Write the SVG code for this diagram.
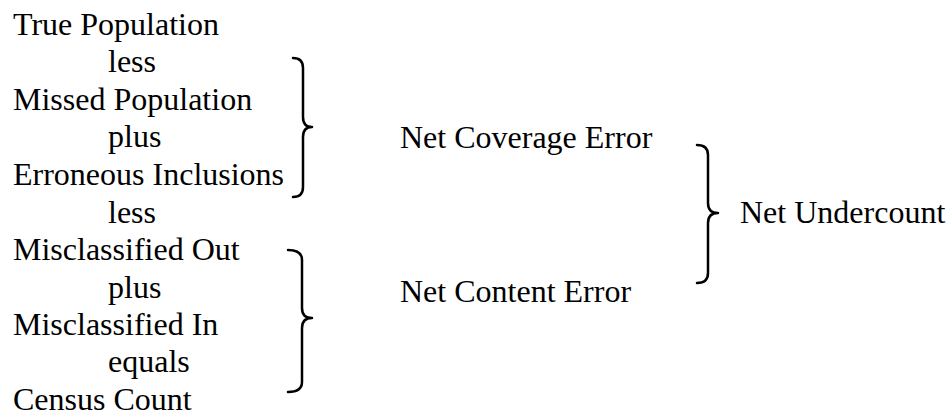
<svg xmlns="http://www.w3.org/2000/svg" width="950" height="420" viewBox="0 0 950 420">
<style>
.t{font-family:'Liberation Serif','Times New Roman',serif;font-size:32px;fill:#000}
.b{fill:none;stroke:#000;stroke-width:2.5;stroke-linecap:round;stroke-linejoin:round}
</style>
<rect width="950" height="420" fill="#fff"/>
<g id="terms" class="t">
<text x="13" y="35">True Population</text>
<text x="108" y="72">less</text>
<text x="13" y="110">Missed Population</text>
<text x="108" y="147">plus</text>
<text x="13" y="185">Erroneous Inclusions</text>
<text x="108" y="223">less</text>
<text x="13" y="260">Misclassified Out</text>
<text x="108" y="298">plus</text>
<text x="13" y="335">Misclassified In</text>
<text x="108" y="372">equals</text>
<text x="13" y="410">Census Count</text>
</g>
<g id="net-coverage-error" class="t"><text x="400" y="148">Net Coverage Error</text></g>
<g id="net-content-error" class="t"><text x="400" y="302">Net Content Error</text></g>
<g id="net-undercount" class="t"><text x="740" y="223">Net Undercount</text></g>
<g id="braces">
<path class="b" d="M293 58 Q303 58 303 68 L303 117 Q303 127 312 127 Q303 127 303 137 L303 187 Q303 197 293 197"/>
<path class="b" d="M288 250 Q302 250 302 260 L302 308 Q302 318 312 318 Q302 318 302 328 L302 382 Q302 392 288 392"/>
<path class="b" d="M697 145 Q708 145 708 155 L708 203 Q708 213 718 213 Q708 213 708 223 L708 273 Q708 283 697 283"/>
</g>
</svg>
